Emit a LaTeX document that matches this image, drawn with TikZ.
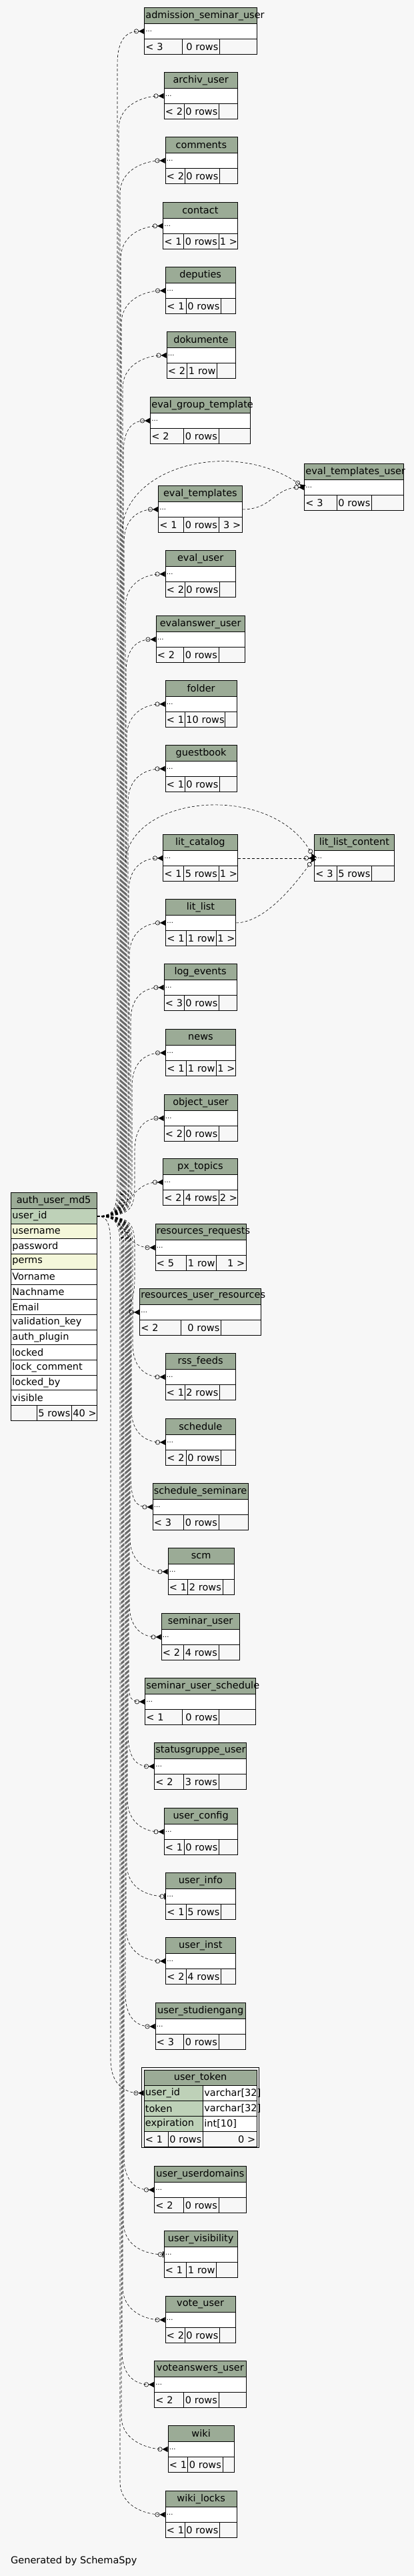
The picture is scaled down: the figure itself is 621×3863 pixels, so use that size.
\documentclass[tikz,border=0pt]{standalone}
\usepackage{fontspec}
\setmainfont{DejaVu Sans}
\usetikzlibrary{arrows.meta,calc}
\definecolor{tblhead}{HTML}{9BAB96}
\definecolor{tblpk}{HTML}{BED1B8}
\definecolor{tblidx}{HTML}{F4F7DA}
\definecolor{tblbg}{HTML}{F7F7F7}
\newcommand{\dbtable}[9]{%
  \pgfmathsetmacro{\tblw}{#3-#2-4}%
  \pgfmathsetmacro{\tblfa}{#5-#2-4}%
  \pgfmathsetmacro{\tblfb}{#6-#5-4}%
  \pgfmathsetmacro{\tblfc}{#3-#6-4}%
  \node[head, text width=\tblw pt] (#1-h) at (#2,#4) {\detokenize{#1}};
  \node[cols, text width=\tblw pt] (#1) at (#2,#4+24) {...};
  \node[foot, text width=\tblfa pt, align=left] (#1-f1) at (#2,#4+47) {\mbox{#7}};
  \node[foot, text width=\tblfb pt, align=right] (#1-f2) at (#5,#4+47) {\mbox{#8}};
  \node[foot, text width=\tblfc pt, align=right] (#1-f3) at (#6,#4+47) {\mbox{#9}};
}

\begin{document}
\begin{tikzpicture}[x=1pt, y=-1pt,
  every node/.style={font=\fontsize{14.5}{16}\selectfont, inner xsep=2pt, inner ysep=0pt, anchor=north west},
  head/.style={draw, line width=0.8pt, fill=tblhead, minimum height=24pt, align=center},
  cols/.style={draw, line width=0.8pt, fill=white, minimum height=23pt, align=left, font=\fontsize{10}{12}\selectfont},
  foot/.style={draw, line width=0.8pt, fill=tblbg, minimum height=23pt},
  col/.style={draw, line width=0.8pt, fill=#1, minimum height=22.7pt, text width=124.5pt, align=left},
  fk/.style={line width=0.6pt, dash pattern=on 4pt off 3pt,
    -{Circle[open,length=7pt,width=7pt] Triangle[reversed,length=8pt,width=8pt]}},
  fkone/.style={fk, -{Circle[open,length=7pt,width=7pt] Bar[width=9pt,line width=1.6pt]}}]
  \fill[tblbg] (0,0) rectangle (621,3863);
  \useasboundingbox (0,0) rectangle (621,3863);

  \node[head, text width=124.5pt] (auth-h) at (16,1788) {auth\_user\_md5};
  \foreach \c/\k [count=\i from 0] in {user_id/tblpk, username/tblidx, password/white, perms/tblidx,
      Vorname/white, Nachname/white, Email/white, validation_key/white, auth_plugin/white,
      locked/white, lock_comment/white, locked_by/white, visible/white}
    \node[col=\k] (auth-\c) at (16,1812+22.7*\i) {\detokenize\expandafter{\c}};
  \node[foot, text width=35pt] (auth-f1) at (16,2107) {};
  \node[foot, text width=48pt, align=right] (auth-f2) at (55,2107) {\mbox{5 rows}};
  \node[foot, text width=33.5pt, align=right] (auth-f3) at (107,2107) {\mbox{40 >}};

  \dbtable{admission_seminar_user}{216}{385}{11}{273}{329}{< 3}{0 rows}{}
  \dbtable{archiv_user}{245.5}{356}{108}{276}{328}{< 2}{0 rows}{}
  \dbtable{comments}{247.5}{355.5}{205}{277}{329}{< 2}{0 rows}{}
  \dbtable{contact}{244}{356}{303}{275}{327.5}{< 1}{0 rows}{1 >}
  \dbtable{deputies}{248}{352.5}{400}{279}{331}{< 1}{0 rows}{}
  \dbtable{dokumente}{249.5}{352.5}{497}{280}{325}{< 2}{1 row}{}
  \dbtable{eval_group_template}{225}{375}{595}{275}{327.5}{< 2}{0 rows}{}
  \dbtable{eval_templates_user}{456}{605}{695}{505}{557}{< 3}{0 rows}{}
  \dbtable{eval_templates}{237}{363}{728}{275}{327.5}{< 1}{0 rows}{3 >}
  \dbtable{eval_user}{247.5}{353}{825}{277}{329}{< 2}{0 rows}{}
  \dbtable{evalanswer_user}{233.5}{367}{923}{275}{327.5}{< 2}{0 rows}{}
  \dbtable{folder}{247.5}{355}{1020}{277}{337}{< 1}{10 rows}{}
  \dbtable{guestbook}{247.5}{355}{1117}{277}{329}{< 1}{0 rows}{}
  \dbtable{lit_catalog}{244}{356}{1251}{275}{327.5}{< 1}{5 rows}{1 >}
  \dbtable{lit_list_content}{471}{591}{1251}{505}{557}{< 3}{5 rows}{}
  \dbtable{lit_list}{248}{353}{1348}{279}{324}{< 1}{1 row}{1 >}
  \dbtable{log_events}{245.5}{355}{1445}{276}{328}{< 3}{0 rows}{}
  \dbtable{news}{248}{353}{1543}{279}{324}{< 1}{1 row}{1 >}
  \dbtable{object_user}{245.5}{356}{1641}{276}{328}{< 2}{0 rows}{}
  \dbtable{px_topics}{244}{356}{1737}{275}{327.5}{< 2}{4 rows}{2 >}
  \dbtable{resources_requests}{232.5}{369}{1835}{279}{324}{< 5}{1 row}{1 >}
  \dbtable{resources_user_resources}{209}{391}{1932}{271}{331}{< 2}{0 rows}{}
  \dbtable{rss_feeds}{247.5}{353}{2029}{277}{329}{< 1}{2 rows}{}
  \dbtable{schedule}{248}{353}{2127}{279}{331}{< 2}{0 rows}{}
  \dbtable{schedule_seminare}{228.5}{372}{2224}{275}{327.5}{< 3}{0 rows}{}
  \dbtable{scm}{251.5}{351}{2321}{281}{333.5}{< 1}{2 rows}{}
  \dbtable{seminar_user}{241.5}{359}{2419}{275}{327.5}{< 2}{4 rows}{}
  \dbtable{seminar_user_schedule}{217}{383}{2516}{273}{328}{< 1}{0 rows}{}
  \dbtable{statusgruppe_user}{231}{369}{2613}{275}{327.5}{< 2}{3 rows}{}
  \dbtable{user_config}{245.5}{356}{2711}{276}{328}{< 1}{0 rows}{}
  \dbtable{user_info}{248}{353}{2808}{279}{331}{< 1}{5 rows}{}
  \dbtable{user_inst}{248}{353}{2905}{279}{331}{< 2}{4 rows}{}
  \dbtable{user_studiengang}{232.5}{368}{3003}{275}{327.5}{< 3}{0 rows}{}
  \dbtable{user_userdomains}{231}{369}{3248}{275}{327.5}{< 2}{0 rows}{}
  \dbtable{user_visibility}{245.5}{356}{3345}{279}{324}{< 1}{1 row}{}
  \dbtable{vote_user}{247.5}{353}{3443}{277}{329}{< 2}{0 rows}{}
  \dbtable{voteanswers_user}{231}{369}{3540}{275}{327.5}{< 2}{0 rows}{}
  \dbtable{wiki}{251.5}{351}{3637}{281}{333.5}{< 1}{0 rows}{}
  \dbtable{wiki_locks}{247.5}{355}{3735}{277}{329}{< 1}{0 rows}{}

  \draw[line width=0.9pt] (212.5,3100.5) rectangle (388,3220.5);
  \node[head, text width=165.5pt] (user_token-h) at (215.5,3103.5) {user\_token};
  \foreach \c/\ty [count=\i from 0] in {user_id/varchar[32], token/varchar[32], expiration/int[10]} {
    \node[col=tblpk, text width=84.5pt] (user_token-\c) at (215.5,3127+23*\i) {\detokenize\expandafter{\c}};
    \node[col=white, text width=77pt] (user_token-\c-type) at (304,3127+23*\i) {\mbox{\ty}};
  }
  \node[foot, text width=32.5pt, align=left] (user_token-f1) at (215.5,3196) {\mbox{< 1}};
  \node[foot, text width=48pt, align=right] (user_token-f2) at (252,3196) {\mbox{0 rows}};
  \node[foot, text width=77pt, align=right] (user_token-f3) at (304,3196) {\mbox{0 >}};

  \foreach \tab/\tx/\sg in {admission_seminar_user/176/1, archiv_user/178/1, comments/180/1,
      contact/181/1, deputies/182/1, dokumente/184/1, eval_group_template/185/1, eval_templates/186/1,
      eval_user/188/1, evalanswer_user/189/1, folder/190/1, guestbook/192/1, lit_catalog/193/1,
      lit_list/194/1, log_events/196/1, news/198/1, object_user/202/1,
      resources_user_resources/202/-1, rss_feeds/199/-1, schedule/197/-1, schedule_seminare/196/-1,
      scm/195/-1, seminar_user/194/-1, seminar_user_schedule/193/-1, statusgruppe_user/192/-1,
      user_config/191/-1, user_inst/189/-1, user_studiengang/188/-1, user_token-user_id/166/-1,
      user_userdomains/186/-1, vote_user/184/-1, voteanswers_user/183/-1, wiki/182/-1, wiki_locks/180/-1}
    \draw[fk] (auth-user_id.east) .. controls +(\tx-150,0) and +(0,{40*(\sg)}) .. (\tx,{1823.5-50*(\sg)})
      -- ($(\tab.west -| \tx,0)+(0,{50*(\sg)})$) .. controls +(0,{-40*(\sg)}) and +(-25,0) .. (\tab.west);
  \draw[fkone] (auth-user_id.east) .. controls +(40,0) and +(0,-40) .. (190,1873.5)
    -- (190,2793.5) .. controls (190,2833.5) and (223,2843.5) .. (user_info.west);
  \draw[fkone] (auth-user_id.east) .. controls +(35,0) and +(0,-40) .. (185,1873.5)
    -- (185,3330.5) .. controls (185,3370.5) and (220,3380.5) .. (user_visibility.west);
  \draw[fk] (auth-user_id.east) .. controls +(50,0) and +(-50,0) .. (px_topics.west);
  \draw[fk] (auth-user_id.east) .. controls +(50,0) and +(-50,0) .. (resources_requests.west);
  \draw[fk] (auth-user_id.east) .. controls +(33,0) and +(0,40) .. (183,1773.5)
    -- (183,800) .. controls (183,700) and (350,655) .. (eval_templates_user.west);
  \draw[fk] (auth-user_id.east) .. controls +(37,0) and +(0,40) .. (187,1773.5)
    -- (187,1300) .. controls (187,1190) and (410,1170) .. (lit_list_content.west);
  \draw[fk] (eval_templates.east) .. controls +(45,0) and +(-45,0) .. (eval_templates_user.west);
  \draw[fk] (lit_catalog.east) -- (lit_list_content.west);
  \draw[fk] (lit_list.east) .. controls +(45,0) and +(-25,35) .. (lit_list_content.west);

  \node[anchor=west] (credit) at (14,3840) {Generated by SchemaSpy};
\end{tikzpicture}
\end{document}
